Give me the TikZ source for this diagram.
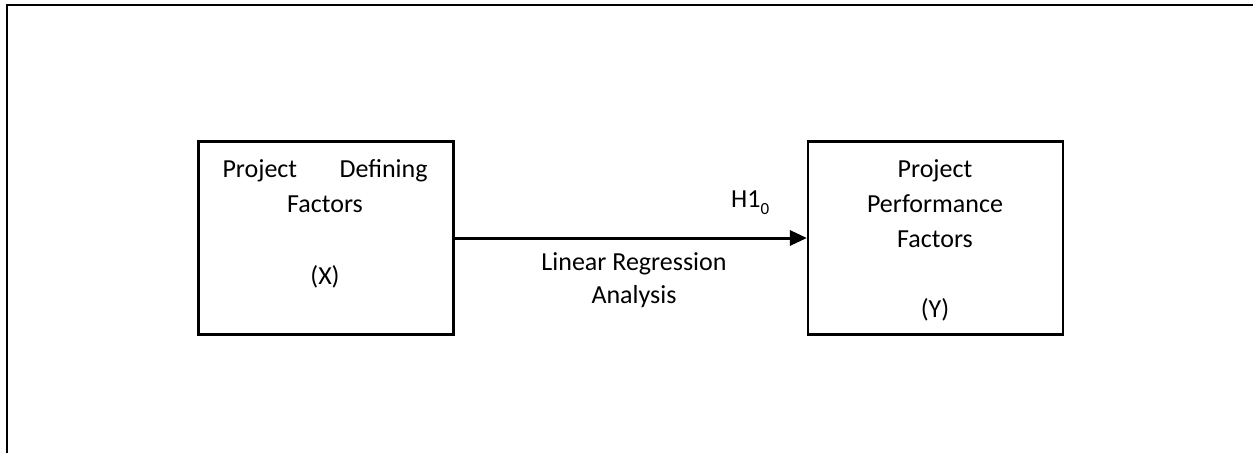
\documentclass[tikz,border=0pt]{standalone}
\usepackage{fontspec}
\setmainfont{Carlito}
\usetikzlibrary{arrows.meta}
\begin{document}
\begin{tikzpicture}[x=1pt,y=-1pt,
  every node/.style={font=\fontsize{26}{35}\selectfont, inner sep=0pt},
  frame/.style={line width=2.2pt},
  box/.style={draw, line width=2.2pt, minimum width=255pt, minimum height=193pt, inner sep=0pt},
  txt/.style={anchor=base},
  conn/.style={line width=3pt, -{Triangle[length=17pt,width=15pt]}}]
\useasboundingbox (0,0) rectangle (1253,453);
\draw[frame] (7,453) -- (7,5) -- (1253,5);
\node[box] (bx) at (326,238) {};
\node[box] (by) at (935.5,238) {};
\draw[conn] (bx.east) -- (by.west);
\node[txt] (t1) at (325,177) {\makebox[205pt][s]{Project\hfill Defining}};
\node[txt] (t2) at (325,212) {Factors};
\node[txt] (t3) at (325,284) {(X)};
\node[txt] (u1) at (935,177) {Project};
\node[txt] (u2) at (935,212) {Performance};
\node[txt] (u3) at (935,247) {Factors};
\node[txt] (u4) at (935,317) {(Y)};
\node[txt, anchor=base west] (h) at (731,207) {H1\raisebox{-7pt}{\fontsize{17}{17}\selectfont 0}};
\node[txt] (l1) at (634,270) {Linear Regression};
\node[txt] (l2) at (634,303) {Analysis};
\end{tikzpicture}
\end{document}
